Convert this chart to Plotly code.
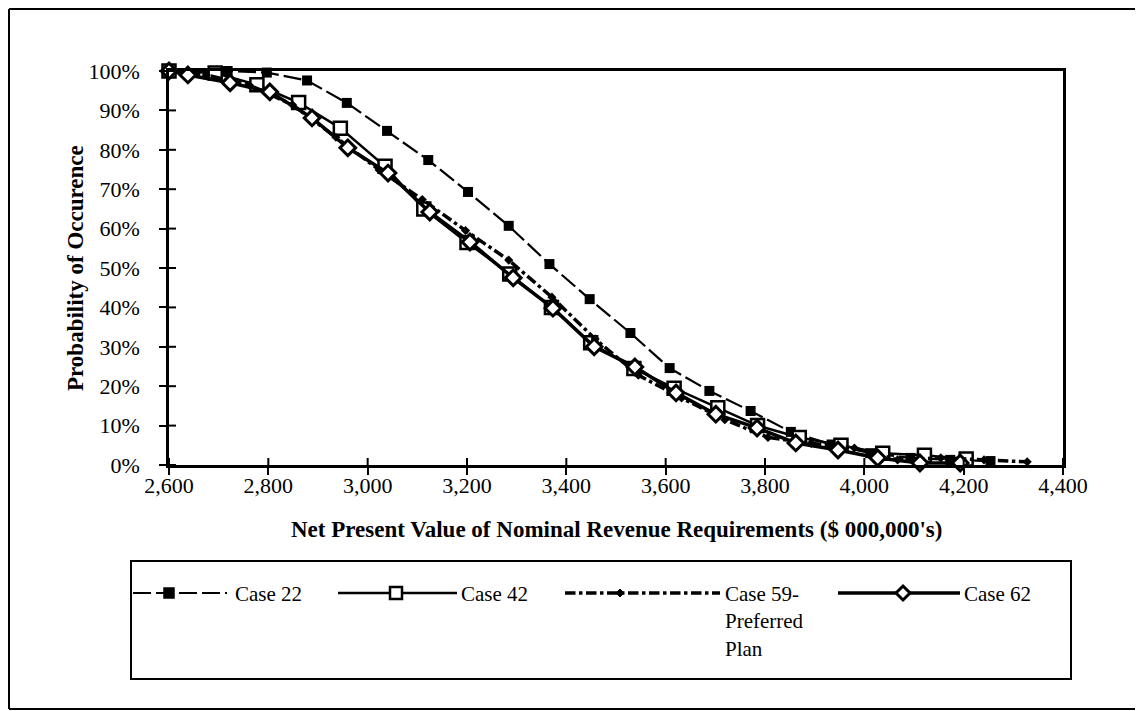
import plotly.graph_objects as go

# ---- data ----
case22_x = [2600, 2718, 2797, 2878, 2958, 3039, 3122, 3202, 3284, 3366, 3447,
            3529, 3608, 3688, 3771, 3852, 3934, 4012, 4093, 4173, 4254]
case22_y = [100, 100, 99.6, 97.6, 91.9, 84.8, 77.4, 69.3, 60.7, 51.0, 42.1,
            33.5, 24.6, 18.8, 13.7, 8.4, 5.2, 3.0, 1.8, 1.3, 1.0]

case42_x = [2600, 2693, 2777, 2861, 2945, 3035, 3113, 3200, 3286, 3370, 3449,
            3536, 3617, 3705, 3785, 3869, 3953, 4037, 4121, 4205]
case42_y = [100, 99.5, 96.5, 92, 85.5, 75.8, 65, 56.5, 48.5, 40, 31,
            24.5, 19.5, 14.5, 10, 7, 5, 3, 2.5, 1.5]

case59_x = [2600, 2675, 2762, 2849, 2936, 3023, 3110, 3197, 3284, 3371, 3458,
            3545, 3632, 3719, 3806, 3893, 3980, 4067, 4154, 4241, 4328]
case59_y = [100, 99, 96.4, 91.4, 83.2, 74.9, 67.4, 59.5, 52, 42.6, 32,
            22.8, 17, 11.5, 7, 5.5, 4.3, 1.3, 1.8, 1.3, 0.8]

case62_x = [2600, 2638, 2723, 2803, 2888, 2960, 3041, 3125, 3206, 3293, 3373,
            3456, 3538, 3621, 3701, 3784, 3862, 3947, 4027, 4112, 4193]
case62_y = [100, 99, 97, 94.7, 88.1, 80.5, 74.1, 64.2, 56.6, 47.5, 39.8,
            30, 24.9, 18.3, 12.9, 9.4, 5.6, 3.8, 1.8, 0.5, 0.5]

x_ticks = list(range(2600, 4401, 200))
y_ticks = list(range(0, 101, 10))
y_ticktext = [f"{v}%" for v in y_ticks]

X_RANGE = [2600, 4400]
Y_RANGE = [0, 100]

# the page body adds an 8px margin, so the figure is 8px smaller than the window
OFF = 8
W, H = 1143 - OFF, 711 - OFF
FONT = "Liberation Serif, Times New Roman, serif"
INK = "#000000"
TICK_LEN = 7


def fx(px):
    """screen pixel x -> paper fraction"""
    return (px - OFF) / W


def fy(py):
    """screen pixel y -> paper fraction"""
    return 1 - (py - OFF) / H


# series styles + hand-built legend slots (screen pixel positions in the box)
series = [
    dict(name="Case 22", x=case22_x, y=case22_y,
         line=dict(color=INK, width=2.2, dash="18px,5px"),
         marker=dict(symbol="square", size=10, color=INK),
         leg=dict(x0=133, x1=227, mx=169, tx=233, kind="sq_fill", s=9)),
    dict(name="Case 42", x=case42_x, y=case42_y,
         line=dict(color=INK, width=2.5),
         marker=dict(symbol="square", size=13, color="white",
                     line=dict(color=INK, width=2.5)),
         leg=dict(x0=338, x1=457, mx=396, tx=459, kind="sq_open", s=12)),
    dict(name="Case 59-<br>Preferred<br>Plan", x=case59_x, y=case59_y,
         line=dict(color=INK, width=3.5, dash="dashdot"),
         marker=dict(symbol="diamond", size=7, color=INK),
         leg=dict(x0=565, x1=720, mx=620, tx=723, kind="dm_fill", s=4)),
    dict(name="Case 62", x=case62_x, y=case62_y,
         line=dict(color=INK, width=3.5),
         marker=dict(symbol="diamond", size=12, color="white",
                     line=dict(color=INK, width=3)),
         leg=dict(x0=838, x1=960, mx=903, tx=962, kind="dm_open", s=7)),
]

fig = go.Figure()
for s in series:
    fig.add_trace(go.Scatter(
        x=s["x"], y=s["y"], name=s["name"], mode="lines+markers",
        line=s["line"], marker=s["marker"], cliponaxis=False,
    ))

# outer chart frame (the scan only shows a stub of its right edge) + legend box
frame = dict(color=INK, width=2)
shapes = [
    dict(type="line", xref="paper", yref="paper",
         x0=fx(9), x1=fx(1143), y0=fy(9), y1=fy(9), line=frame),
    dict(type="line", xref="paper", yref="paper",
         x0=fx(9), x1=fx(9), y0=fy(9), y1=fy(709), line=frame),
    dict(type="line", xref="paper", yref="paper",
         x0=fx(9), x1=fx(1143), y0=fy(709), y1=fy(709), line=frame),
    dict(type="line", xref="paper", yref="paper",
         x0=fx(1141), x1=fx(1141), y0=fy(298), y1=fy(380),
         line=dict(color="#888888", width=1.5)),
    dict(type="rect", xref="paper", yref="paper",
         x0=fx(131), x1=fx(1071), y0=fy(679), y1=fy(561),
         line=dict(color=INK, width=2)),
]

# inner half of the crossing tick marks (outer half comes from the axes)
for v in x_ticks:
    shapes.append(dict(type="line", xref="x", yref="y",
                       x0=v, x1=v, ysizemode="pixel", yanchor=Y_RANGE[0],
                       y0=0, y1=TICK_LEN, line=dict(color=INK, width=2)))
for v in y_ticks:
    shapes.append(dict(type="line", xref="x", yref="y",
                       y0=v, y1=v, xsizemode="pixel", xanchor=X_RANGE[0],
                       x0=0, x1=TICK_LEN, line=dict(color=INK, width=2)))

annotations = []
LEG_Y = 593
for s in series:
    lg = s["leg"]
    shapes.append(dict(type="line", xref="paper", yref="paper",
                       x0=fx(lg["x0"]), x1=fx(lg["x1"]),
                       y0=fy(LEG_Y), y1=fy(LEG_Y),
                       line=s["line"]))
    h = lg["s"]
    if lg["kind"].startswith("sq"):
        shapes.append(dict(type="rect", xref="paper", yref="paper",
                           x0=fx(lg["mx"] - h / 2), x1=fx(lg["mx"] + h / 2),
                           y0=fy(LEG_Y + h / 2), y1=fy(LEG_Y - h / 2),
                           fillcolor=INK if lg["kind"] == "sq_fill" else "white",
                           line=dict(color=INK, width=2.5)))
    else:
        mx = lg["mx"]
        path = (f"M {fx(mx)},{fy(LEG_Y - h)} L {fx(mx + h)},{fy(LEG_Y)} "
                f"L {fx(mx)},{fy(LEG_Y + h)} L {fx(mx - h)},{fy(LEG_Y)} Z")
        shapes.append(dict(type="path", xref="paper", yref="paper", path=path,
                           fillcolor=INK if lg["kind"] == "dm_fill" else "white",
                           line=dict(color=INK, width=3 if lg["kind"] == "dm_open" else 1)))
    annotations.append(dict(
        text=s["name"], xref="paper", yref="paper", x=fx(lg["tx"]), y=fy(LEG_Y - 13),
        xanchor="left", yanchor="top", align="left", showarrow=False,
        font=dict(family=FONT, size=21, color=INK),
    ))

# axis titles
annotations.append(dict(
    text="<b>Probability of Occurence</b>", xref="paper", yref="paper",
    x=fx(75), y=fy(268), xanchor="center", yanchor="middle",
    textangle=-90, showarrow=False,
    font=dict(family=FONT, size=23, color=INK),
))
annotations.append(dict(
    text="<b>Net Present Value of Nominal Revenue Requirements ($ 000,000's)</b>",
    xref="paper", yref="paper", x=fx(616), y=fy(529),
    xanchor="center", yanchor="middle", showarrow=False,
    font=dict(family=FONT, size=23, color=INK),
))

x_dom = [fx(169), fx(1063)]
y_dom = [fy(465), fy(71)]

fig.update_layout(
    width=W, height=H,
    margin=dict(l=0, r=0, t=0, b=0),
    paper_bgcolor="white", plot_bgcolor="white",
    showlegend=False,
    font=dict(family=FONT, size=22, color=INK),
    xaxis=dict(domain=x_dom, range=X_RANGE, tickvals=x_ticks,
               tickformat=",d", showgrid=False, zeroline=False,
               showline=True, linecolor=INK, linewidth=2.5, mirror=True,
               ticks="outside", ticklen=TICK_LEN, tickwidth=2, tickcolor=INK,
               ticklabelstandoff=-8, automargin=False),
    yaxis=dict(domain=y_dom, range=Y_RANGE, tickvals=y_ticks,
               ticktext=y_ticktext, showgrid=False, zeroline=False,
               showline=True, linecolor=INK, linewidth=2.5, mirror=True,
               ticks="outside", ticklen=TICK_LEN, tickwidth=2, tickcolor=INK,
               ticklabelstandoff=15, automargin=False),
    shapes=shapes,
    annotations=annotations,
)

fig.write_html("out.html")
